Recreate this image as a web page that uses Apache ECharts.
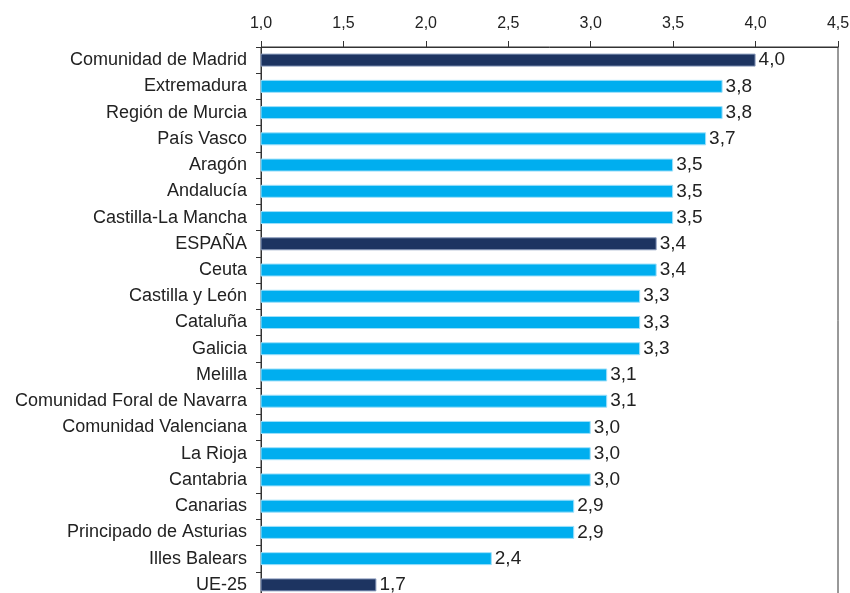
<!DOCTYPE html>
<html>
<head>
<meta charset="utf-8">
<script src="https://cdn.jsdelivr.net/npm/echarts@6/dist/echarts.min.js"></script>
<style>
  html, body { margin: 0; padding: 0; background: #fff; }
  #chart { width: 850px; height: 593px; }
</style>
</head>
<body>
<div id="chart"></div>
<script>
const regiones = [
  'Comunidad de Madrid', 'Extremadura', 'Región de Murcia', 'País Vasco', 'Aragón',
  'Andalucía', 'Castilla-La Mancha', 'ESPAÑA', 'Ceuta', 'Castilla y León',
  'Cataluña', 'Galicia', 'Melilla', 'Comunidad Foral de Navarra', 'Comunidad Valenciana',
  'La Rioja', 'Cantabria', 'Canarias', 'Principado de Asturias', 'Illes Balears', 'UE-25'
];
const valores = [4.0, 3.8, 3.8, 3.7, 3.5, 3.5, 3.5, 3.4, 3.4, 3.3, 3.3, 3.3, 3.1, 3.1, 3.0, 3.0, 3.0, 2.9, 2.9, 2.4, 1.7];
const destacados = ['Comunidad de Madrid', 'ESPAÑA', 'UE-25'];

const AZUL_CLARO = '#00aeef';
const AZUL_OSCURO = '#1d3461';
const FONT = 'Liberation Sans';

const coma = (v) => Number(v).toFixed(1).replace('.', ',');

const chart = echarts.init(document.getElementById('chart'), null, { renderer: 'canvas' });

chart.setOption({
  animation: false,
  backgroundColor: '#fff',
  grid: {
    left: 261, top: 47, width: 577, height: 551,
    outerBoundsMode: 'none',
    show: true, borderColor: '#333', borderWidth: 1
  },
  xAxis: {
    type: 'value',
    position: 'top',
    min: 1,
    max: 4.5,
    interval: 0.5,
    axisLine: { show: true, lineStyle: { color: '#333' } },
    axisTick: { show: true, length: 6, lineStyle: { color: '#333' } },
    axisLabel: { color: '#222', fontFamily: FONT, fontSize: 16, margin: 15, formatter: coma },
    splitLine: { show: false }
  },
  yAxis: {
    type: 'category',
    inverse: true,
    data: regiones,
    axisLine: { show: true, lineStyle: { color: '#333' } },
    axisTick: { show: true, length: 5, lineStyle: { color: '#333' } },
    axisLabel: { color: '#222', fontFamily: FONT, fontSize: 18, margin: 14 }
  },
  series: [{
    type: 'bar',
    barWidth: 13,
    data: valores.map((v, i) => ({
      value: v,
      itemStyle: {
        color: destacados.includes(regiones[i]) ? AZUL_OSCURO : AZUL_CLARO,
        borderColor: destacados.includes(regiones[i]) ? '#8a9bbd' : '#9fe0fa',
        borderWidth: 1
      }
    })),
    label: {
      show: true,
      position: 'right',
      distance: 3,
      color: '#222',
      fontFamily: FONT,
      fontSize: 19,
      formatter: (p) => coma(p.value)
    }
  }]
});
</script>
</body>
</html>
